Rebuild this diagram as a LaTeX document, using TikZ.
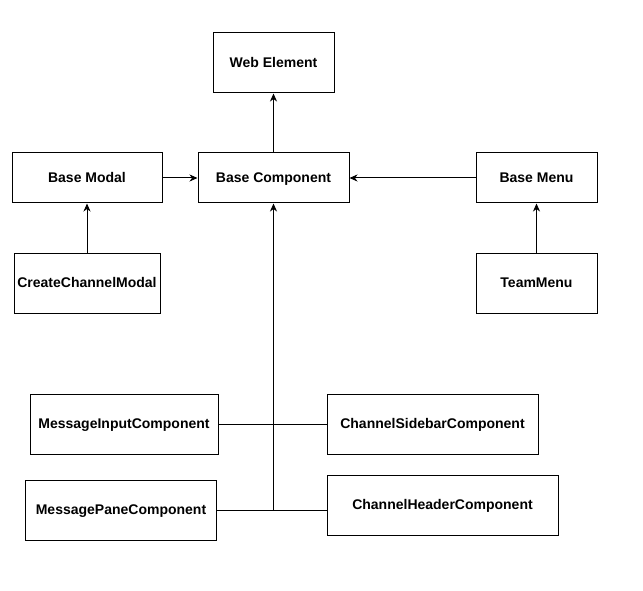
\documentclass[tikz,border=0pt]{standalone}
\usepackage{fontspec}
\setmainfont{Liberation Sans}
\usepackage{tikz}
\usetikzlibrary{arrows.meta,positioning}
\tikzstyle{box} = [draw, line width=1pt, inner sep=0pt, font=\fontsize{14}{16}\selectfont\bfseries, text height=0.95em, text depth=0.1em, text centered]
\tikzstyle{arrow} = [line width=1pt,->,>={Stealth[length=8pt,width=7pt,inset=2.5pt]}]

\begin{document}
\begin{tikzpicture}[x=1pt, y=-1pt]
\useasboundingbox (0,0) rectangle (643,591);

% Top of the hierarchy
\node[box, minimum width=121pt, minimum height=60pt] (web) at (273.5,63) {Web Element};
\node[box, minimum width=151pt, minimum height=50pt] (basecomp) at (273.5,178) {Base Component};
\node[box, minimum width=150pt, minimum height=50pt] (basemodal) at (87,178) {Base Modal};
\node[box, minimum width=121pt, minimum height=50pt] (basemenu) at (536.5,178) {Base Menu};

% Subclasses
\node[box, minimum width=146pt, minimum height=60pt] (createmodal) at (87,283) {CreateChannelModal};
\node[box, minimum width=121pt, minimum height=60pt] (teammenu) at (536.5,283) {TeamMenu};

% Components
\node[box, minimum width=188pt, minimum height=60pt] (msginput) at (124,424) {MessageInputComponent};
\node[box, minimum width=211pt, minimum height=60pt] (chsidebar) at (432.5,424) {ChannelSidebarComponent};
\node[box, minimum width=191pt, minimum height=60pt] (msgpane) at (121,510.5) {MessagePaneComponent};
\node[box, minimum width=231pt, minimum height=60pt] (chheader) at (442.5,505.5) {ChannelHeaderComponent};

% Arrows
\draw[arrow] (basecomp) -- (web);
\draw[arrow] (basemodal) -- (basecomp);
\draw[arrow] (basemenu) -- (basecomp);
\draw[arrow] (createmodal) -- (basemodal);
\draw[arrow] (teammenu) -- (basemenu);

% Trunk for the components
\coordinate (trunk) at (basecomp.south |- msgpane.east);
\draw[arrow] (trunk) -- (basecomp);
\draw (msgpane.east) -- (trunk) -- (chheader.west |- trunk);
\draw (msginput) -- (chsidebar);
\end{tikzpicture}
\end{document}
